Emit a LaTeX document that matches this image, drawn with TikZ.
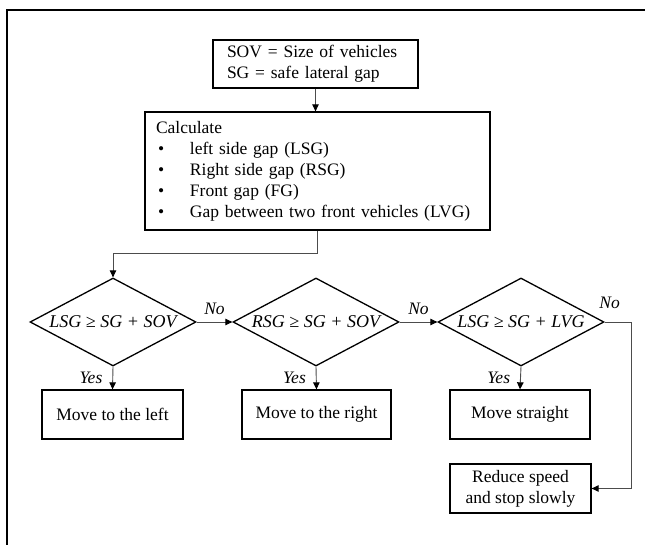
\documentclass[tikz,border=0pt]{standalone}
\usepackage{fontspec}
\setmainfont{Liberation Serif}
\usetikzlibrary{shapes.geometric,arrows.meta,calc}
\begin{document}
\begin{tikzpicture}[x=1pt,y=-1pt,
  box/.style={draw=black,line width=1.3pt,inner sep=0pt,align=center,
    font=\fontsize{17.5}{21}\selectfont},
  dec/.style={draw=black,line width=1.3pt,diamond,inner sep=0pt,aspect=1.89,
    minimum width=166pt,minimum height=88pt,font=\fontsize{18}{21}\selectfont\itshape},
  conn/.style={draw=black!70,line width=0.9pt,-{Triangle[length=7pt,width=6.5pt,black]}},
  lab/.style={inner sep=1pt,font=\fontsize{17.5}{20}\selectfont\itshape}]
\clip (0,0) rectangle (645,545);
\fill[white] (0,0) rectangle (645,545);
% outer frame (partly visible)
\draw[line width=2.5pt] (7,560) -- (7,10) -- (660,10);
% nodes
\node[box,text width=177pt,inner xsep=14pt,minimum height=48pt,align=left] (def) at (315.5,64)
  {SOV = Size of vehicles\\SG = safe lateral gap};
\node[box,text width=323pt,inner xsep=11pt,minimum height=118pt,align=left] (calc) at (317.5,171)
  {Calculate\\
   \makebox[34pt][l]{\hspace{2pt}\textbullet}left side gap (LSG)\\
   \makebox[34pt][l]{\hspace{2pt}\textbullet}Right side gap (RSG)\\
   \makebox[34pt][l]{\hspace{2pt}\textbullet}Front gap (FG)\\
   \makebox[34pt][l]{\hspace{2pt}\textbullet}Gap between two front vehicles (LVG)};
\node[dec] (d1) at (113,322) {LSG ≥ SG + SOV};
\node[dec] (d2) at (316,322) {RSG ≥ SG + SOV};
\node[dec] (d3) at (521,322) {LSG ≥ SG + LVG};
\node[box,minimum width=141pt,minimum height=49pt] (b1) at (112.5,414.5) {Move to the left};
\node[box,minimum width=149pt,minimum height=49pt] (b2) at (316.5,414.5) {Move to the right};
\node[box,minimum width=140pt,minimum height=49pt] (b3) at (520,414.5) {Move straight};
\node[box,minimum width=141pt,minimum height=49pt] (b4) at (520.5,488.5) {Reduce speed\\and stop slowly};
% connectors
\draw[conn] (def.south) -- (def.south |- calc.north);
\draw[conn] (calc.south) -- ++(0,23) -| (d1.north);
\draw[conn] (d1.east) -- node[lab,above=6pt] {No} (d2.west);
\draw[conn] (d2.east) -- node[lab,above=6pt] {No} (d3.west);
\draw[conn] (d3.east) -- ++(27,0) |- (b4.east);
\node[lab] (no3) at ([xshift=5pt,yshift=19pt]d3.east) {No};
\draw[conn] (d1.south) -- node[lab,left=9pt] {Yes} (b1.north);
\draw[conn] (d2.south) -- node[lab,left=9pt] {Yes} (b2.north);
\draw[conn] (d3.south) -- node[lab,left=9pt] {Yes} (b3.north);
\end{tikzpicture}
\end{document}
